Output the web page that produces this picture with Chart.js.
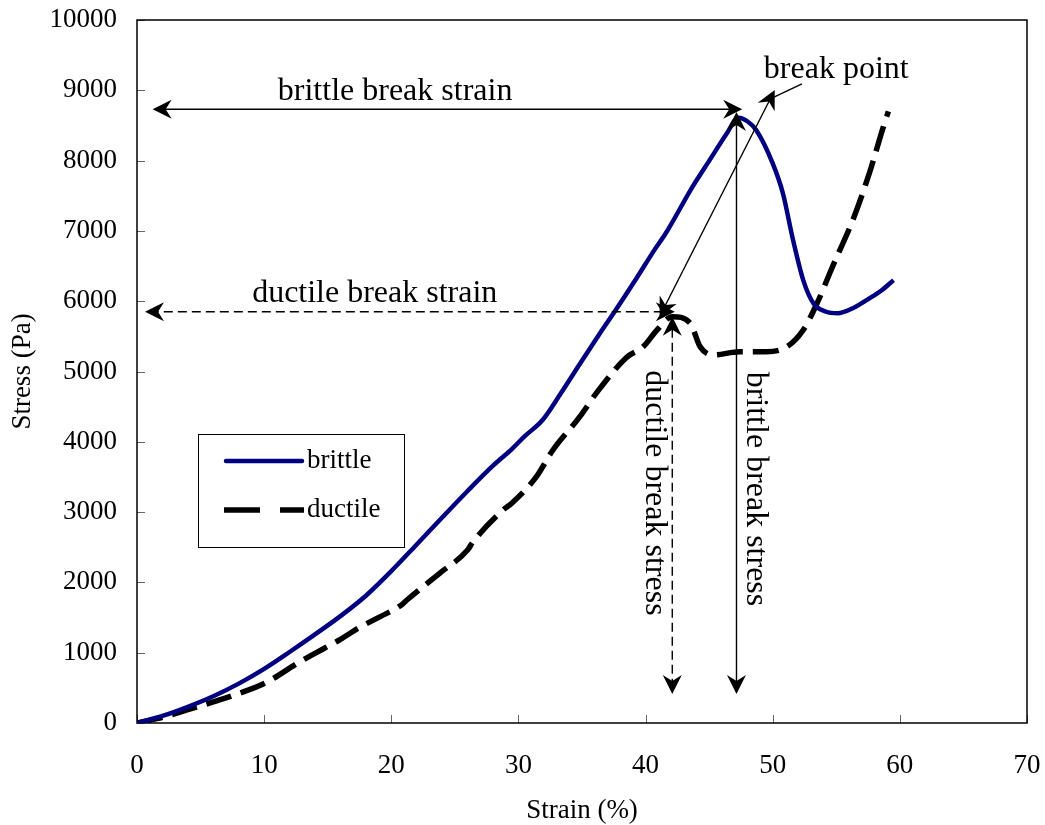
<!DOCTYPE html>
<html>
<head>
<meta charset="utf-8">
<title>Stress–strain curves</title>
<script src="https://cdn.jsdelivr.net/npm/chart.js@4/dist/chart.umd.min.js"></script>
<style>
  html, body { margin: 0; padding: 0; background: #ffffff; }
  canvas { display: block; }
</style>
</head>
<body>
<canvas id="chart" width="1045" height="825"></canvas>
<script>
// Stress–strain data for the two samples
const brittleStrain = [0, 2, 4, 6, 8, 10, 12, 14, 16, 18, 20, 22, 24.3, 26, 28, 29.5, 30.5, 31.9, 33.3, 34.8, 36.4, 37.6, 39.3, 40.7, 41.6, 43.7, 45.05, 46.4, 47.3, 48.0, 48.7, 50.0, 50.8, 51.6, 52.4, 53.2, 54.2, 55.1, 56.3, 57.6, 58.6, 59.5];
const brittleStress = [0, 100, 230, 380, 560, 770, 1010, 1260, 1520, 1810, 2160, 2540, 2980, 3300, 3660, 3900, 4080, 4310, 4680, 5100, 5540, 5860, 6330, 6730, 6970, 7630, 8010, 8390, 8610, 8560, 8435, 7960, 7535, 6870, 6300, 5970, 5850, 5828, 5900, 6040, 6160, 6300];

const ductileStrain = [0, 2, 4, 6, 8, 10.1, 12.8, 14, 16, 17.5, 19.1, 20.8, 21.3, 23.8, 26, 26.4, 28.8, 29.5, 31.4, 32.7, 34.8, 36.2, 38.5, 39.8, 40.9, 42.1, 43.5, 44.3, 45.3, 47.4, 49.5, 51.1, 52.4, 53.5, 54.7, 56.3, 57.6, 58.7, 59.1];
const ductileStress = [0, 80, 190, 300, 420, 570, 870, 990, 1190, 1360, 1510, 1680, 1760, 2130, 2460, 2570, 3030, 3130, 3500, 3880, 4350, 4710, 5200, 5350, 5590, 5780, 5690, 5350, 5235, 5280, 5280, 5350, 5590, 5975, 6490, 7155, 7820, 8480, 8700];

const seriesNames = ['brittle', 'ductile'];
const strainTicks = [0, 10, 20, 30, 40, 50, 60, 70];
const stressTicks = [0, 1000, 2000, 3000, 4000, 5000, 6000, 7000, 8000, 9000, 10000];

// Break-point markers: [strain, stress] endpoints
const brittleStrainArrow = [[47.6, 8730], [1.23, 8730]];
const brittleStressArrow = [[47.15, 8690], [47.15, 412]];
const ductileStrainArrow = [[42.3, 5850], [0.63, 5850]];
const ductileStressArrow = [[42.1, 5780], [42.1, 412]];
const breakPointArrow = [[41.1, 5780], [50.16, 9004]];
const breakPointLeader = [[52.3, 9090], [49.85, 8880]];

const annotationLabels = ['brittle break strain', 'ductile break strain', 'break point', 'ductile break stress', 'brittle break stress'];
const annotationAnchors = [[20.3, 8976], [18.7, 6102], [55.0, 9289], [40.7, 3272], [48.6, 3329]];
const annotationAngles = [0, 0, 0, 90, 90];

const SERIF = "'Liberation Serif', 'Times New Roman', serif";

function pairs(xs, ys) { return xs.map((x, i) => ({ x: x, y: ys[i] })); }

// Full frame with inward tick marks
const framePlugin = {
  id: 'frame',
  beforeDatasetsDraw(chart) {
    const { ctx, chartArea: a, scales: { x, y } } = chart;
    ctx.save();
    ctx.strokeStyle = '#666666';
    ctx.lineWidth = 1;
    ctx.beginPath();
    strainTicks.forEach(v => {
      const px = Math.round(x.getPixelForValue(v)) + 0.5;
      ctx.moveTo(px, a.bottom); ctx.lineTo(px, a.bottom - 8);
    });
    stressTicks.forEach(v => {
      const py = Math.round(y.getPixelForValue(v)) + 0.5;
      ctx.moveTo(a.left, py); ctx.lineTo(a.left + 8, py);
    });
    ctx.stroke();
    ctx.strokeStyle = '#000000';
    ctx.lineWidth = 1.5;
    ctx.strokeRect(a.left, a.top, a.right - a.left, a.bottom - a.top);
    ctx.restore();
  }
};

function arrowHead(ctx, tx, ty, ux, uy) {
  const L = 19, H = 9.5, N = 13;
  const nx = -uy, ny = ux;
  ctx.beginPath();
  ctx.moveTo(tx, ty);
  ctx.lineTo(tx - L * ux + H * nx, ty - L * uy + H * ny);
  ctx.lineTo(tx - N * ux, ty - N * uy);
  ctx.lineTo(tx - L * ux - H * nx, ty - L * uy - H * ny);
  ctx.closePath();
  ctx.fill();
}

function drawArrow(chart, pts, dashed, heads) {
  const { ctx, scales: { x, y } } = chart;
  const x1 = x.getPixelForValue(pts[0][0]), y1 = y.getPixelForValue(pts[0][1]);
  const x2 = x.getPixelForValue(pts[1][0]), y2 = y.getPixelForValue(pts[1][1]);
  const len = Math.hypot(x2 - x1, y2 - y1);
  const ux = (x2 - x1) / len, uy = (y2 - y1) / len;
  const inset = heads ? 12 : 0;
  ctx.save();
  ctx.strokeStyle = '#000000';
  ctx.fillStyle = '#000000';
  ctx.lineWidth = 1.4;
  ctx.setLineDash(dashed ? [9, 5] : []);
  ctx.beginPath();
  ctx.moveTo(x1 + ux * inset, y1 + uy * inset);
  ctx.lineTo(x2 - ux * inset, y2 - uy * inset);
  ctx.stroke();
  ctx.setLineDash([]);
  if (heads) {
    arrowHead(ctx, x1, y1, -ux, -uy);
    arrowHead(ctx, x2, y2, ux, uy);
  }
  ctx.restore();
}

const annotationPlugin = {
  id: 'breakMarkers',
  afterDatasetsDraw(chart) {
    drawArrow(chart, brittleStrainArrow, false, true);
    drawArrow(chart, brittleStressArrow, false, true);
    drawArrow(chart, ductileStrainArrow, true, true);
    drawArrow(chart, ductileStressArrow, true, true);
    drawArrow(chart, breakPointArrow, false, true);
    drawArrow(chart, breakPointLeader, false, false);

    const { ctx, scales: { x, y } } = chart;
    ctx.save();
    ctx.fillStyle = '#000000';
    ctx.font = '32px ' + SERIF;
    ctx.textAlign = 'center';
    ctx.textBaseline = 'middle';
    annotationLabels.forEach((txt, i) => {
      const px = x.getPixelForValue(annotationAnchors[i][0]);
      const py = y.getPixelForValue(annotationAnchors[i][1]);
      ctx.save();
      ctx.translate(px, py);
      ctx.rotate(annotationAngles[i] * Math.PI / 180);
      ctx.fillText(txt, 0, 0);
      ctx.restore();
    });
    ctx.restore();
  }
};

// Boxed legend inside the plot
const legendPlugin = {
  id: 'boxLegend',
  afterDatasetsDraw(chart) {
    const ctx = chart.ctx;
    ctx.save();
    ctx.fillStyle = '#ffffff';
    ctx.fillRect(198, 434, 207, 114);
    ctx.strokeStyle = '#000000';
    ctx.lineWidth = 1;
    ctx.strokeRect(198.5, 434.5, 206, 113);
    chart.data.datasets.forEach((ds, i) => {
      const ly = 461 + i * 49;
      const dashed = ds.borderDash && ds.borderDash.length;
      ctx.beginPath();
      ctx.strokeStyle = ds.borderColor;
      ctx.lineWidth = ds.borderWidth;
      ctx.lineCap = dashed ? 'butt' : 'round';
      ctx.setLineDash(dashed ? [36, 20] : []);
      ctx.moveTo(dashed ? 224 : 226, ly);
      ctx.lineTo(dashed ? 304 : 302, ly);
      ctx.stroke();
      ctx.setLineDash([]);
      ctx.fillStyle = '#000000';
      ctx.font = '27px ' + SERIF;
      ctx.textAlign = 'left';
      ctx.textBaseline = 'middle';
      ctx.fillText(ds.label, 307, ly);
    });
    ctx.restore();
  }
};

new Chart(document.getElementById('chart'), {
  type: 'line',
  data: {
    datasets: [
      {
        label: seriesNames[0],
        data: pairs(brittleStrain, brittleStress),
        borderColor: '#000080',
        borderWidth: 4.5,
        borderDash: [],
        pointRadius: 0,
        fill: false,
        cubicInterpolationMode: 'monotone'
      },
      {
        label: seriesNames[1],
        data: pairs(ductileStrain, ductileStress),
        borderColor: '#000000',
        borderWidth: 5.5,
        borderDash: [26, 10],
        borderCapStyle: 'butt',
        pointRadius: 0,
        fill: false,
        cubicInterpolationMode: 'monotone'
      }
    ]
  },
  options: {
    responsive: false,
    animation: false,
    events: [],
    layout: { padding: { top: 20, right: 18, left: 0, bottom: 0 } },
    plugins: {
      legend: { display: false },
      tooltip: { enabled: false }
    },
    scales: {
      x: {
        type: 'linear',
        min: 0,
        max: 70,
        afterBuildTicks: s => { s.ticks = strainTicks.map(v => ({ value: v })); },
        afterFit: s => { s.height = 102; s.paddingLeft = 0; s.paddingRight = 0; },
        grid: { display: false, drawTicks: false },
        border: { display: false },
        ticks: {
          padding: 27,
          color: '#000000',
          font: { family: SERIF, size: 27 },
          callback: v => String(v),
          maxRotation: 0
        },
        title: {
          display: true,
          text: 'Strain (%)',
          color: '#000000',
          font: { family: SERIF, size: 27, lineHeight: 1 },
          padding: { top: 0, bottom: 1 }
        }
      },
      y: {
        type: 'linear',
        min: 0,
        max: 10000,
        afterBuildTicks: s => { s.ticks = stressTicks.map(v => ({ value: v })); },
        afterFit: s => { s.width = 137; s.paddingTop = 0; s.paddingBottom = 0; },
        grid: { display: false, drawTicks: false },
        border: { display: false },
        ticks: {
          padding: 20,
          color: '#000000',
          font: { family: SERIF, size: 27 },
          callback: v => String(v)
        },
        title: {
          display: true,
          text: 'Stress (Pa)',
          color: '#000000',
          font: { family: SERIF, size: 27, lineHeight: 1 },
          padding: { top: 9, bottom: 0 }
        }
      }
    }
  },
  plugins: [framePlugin, annotationPlugin, legendPlugin]
});
</script>
</body>
</html>
